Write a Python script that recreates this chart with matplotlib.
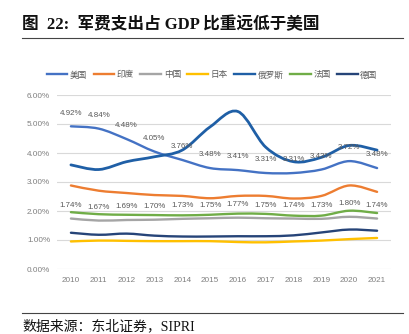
import matplotlib
matplotlib.use("Agg")
import matplotlib.pyplot as plt
import numpy as np
from matplotlib.lines import Line2D
from matplotlib.path import Path
from matplotlib.patches import PathPatch

years = ["2010", "2011", "2012", "2013", "2014", "2015", "2016",
         "2017", "2018", "2019", "2020", "2021"]

usa = [4.92, 4.84, 4.48, 4.05, 3.76, 3.48, 3.41, 3.31, 3.31, 3.43, 3.72, 3.48]
india = [2.88, 2.70, 2.62, 2.55, 2.52, 2.44, 2.52, 2.52, 2.43, 2.52, 2.88, 2.66]
china = [1.74, 1.67, 1.69, 1.70, 1.73, 1.75, 1.77, 1.75, 1.74, 1.73, 1.80, 1.74]
japan = [0.95, 0.98, 0.97, 0.96, 0.96, 0.96, 0.93, 0.92, 0.95, 0.98, 1.03, 1.07]
russia = [3.59, 3.43, 3.70, 3.87, 4.10, 4.90, 5.43, 4.20, 3.70, 3.85, 4.26, 4.10]
france = [1.96, 1.89, 1.87, 1.86, 1.85, 1.87, 1.91, 1.90, 1.84, 1.84, 2.01, 1.93]
germany = [1.25, 1.18, 1.22, 1.15, 1.12, 1.12, 1.13, 1.13, 1.16, 1.26, 1.36, 1.32]

series = [
    ("美国", usa, "#4472C4", 1.7),
    ("印度", india, "#ED7D31", 1.7),
    ("中国", china, "#A5A5A5", 1.7),
    ("日本", japan, "#FFC000", 1.7),
    ("俄罗斯", russia, "#1F5FA6", 2.0),
    ("法国", france, "#70AD47", 1.7),
    ("德国", germany, "#264478", 1.7),
]

CJK = ["Noto Sans CJK SC", "DejaVu Sans"]
GRAY = "#595959"


def smooth_path(xs, ys):
    """Excel-style smoothed line as cubic Bezier segments."""
    pts = np.column_stack([xs, ys]).astype(float)
    n = len(pts)
    verts = [pts[0]]
    codes = [Path.MOVETO]
    for i in range(n - 1):
        p0 = pts[max(i - 1, 0)]
        p1 = pts[i]
        p2 = pts[i + 1]
        p3 = pts[min(i + 2, n - 1)]
        verts += [p1 + (p2 - p0) / 6, p2 - (p3 - p1) / 6, p2]
        codes += [Path.CURVE4] * 3
    return Path(verts, codes)


fig = plt.figure(figsize=(4.09, 3.34), dpi=100)
ax = fig.add_axes([57 / 409, 65 / 334, 334 / 409, 174 / 334])

x = np.arange(len(years))
handles = []
for name, vals, color, lw in series:
    patch = PathPatch(smooth_path(x, vals), facecolor="none", edgecolor=color,
                      lw=lw, capstyle="round", joinstyle="round", zorder=3)
    ax.add_patch(patch)
    handles.append(Line2D([], [], color=color, lw=1.7, label=name))

for vals in (usa, china):
    for xi, v in zip(x, vals):
        ax.annotate(f"{v:.2f}%", (xi, v), xytext=(0, 9.5), textcoords="offset points",
                    ha="center", va="center", fontsize=5.7, color=GRAY,
                    family="Liberation Sans", zorder=5)

ax.set_xlim(-0.5, len(years) - 0.5)
ax.set_ylim(0, 6)
ax.set_xticks(x)
ax.set_xticklabels(years)
ax.set_yticks(np.arange(0, 7, 1))
ax.set_yticklabels([f"{v:.2f}%" for v in range(7)])
ax.grid(axis="y", color="#D9D9D9", lw=0.8)
ax.set_axisbelow(True)
for s in ax.spines.values():
    s.set_visible(False)
ax.tick_params(length=0, colors="#7F7F7F", labelsize=5.9)
ax.tick_params(axis="x", pad=6)
ax.tick_params(axis="y", pad=5)
for lab in ax.get_xticklabels() + ax.get_yticklabels():
    lab.set_family("Liberation Sans")

fig.legend(handles=handles, loc="center", bbox_to_anchor=(212 / 409, 1 - 75 / 334),
           ncol=7, frameon=False, handlelength=2.4, handletextpad=0.3,
           columnspacing=0.75, prop={"family": CJK, "size": 6.2}, labelcolor=GRAY)

fig.text(22 / 409, 1 - 25 / 334, "图  22:  军费支出占 GDP 比重远低于美国",
         fontsize=12, fontweight="bold", family=["Liberation Serif", "Noto Sans CJK SC"],
         ha="left", va="center", color="#111111")
fig.add_artist(Line2D([22 / 409, 403 / 409], [1 - 38 / 334] * 2, color="#444444", lw=0.8))
fig.add_artist(Line2D([22 / 409, 403 / 409], [1 - 313 / 334] * 2, color="#444444", lw=0.8))
fig.text(22 / 409, 1 - 326 / 334, "数据来源：东北证券，SIPRI", fontsize=10,
         family=["Liberation Serif", "Noto Sans CJK SC"], ha="left", va="center",
         color="#111111")

fig.savefig("out.png", dpi=100)
